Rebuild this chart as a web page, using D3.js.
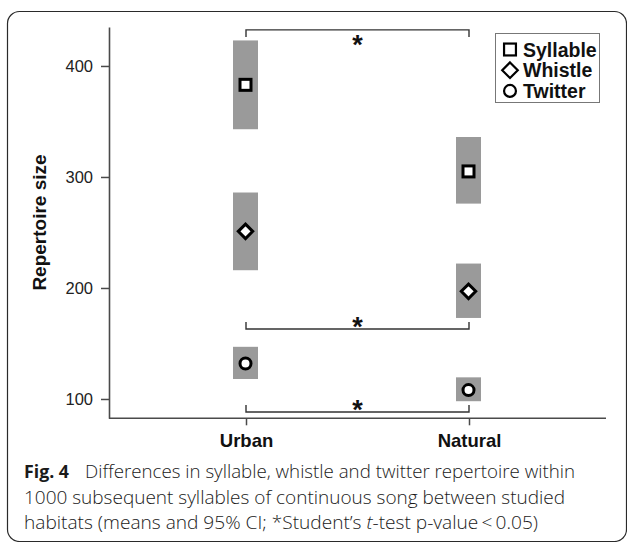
<!DOCTYPE html>
<html>
<head>
<meta charset="utf-8">
<script src="https://cdn.jsdelivr.net/npm/d3@7"></script>
<style>
  html, body { margin: 0; padding: 0; background: #fff; }
  svg { display: block; }
</style>
</head>
<body>
<svg id="chart" width="627" height="542"></svg>
<script>
// ---- data ----
const categories = ["Urban", "Natural"];
const seriesNames = ["Syllable", "Whistle", "Twitter"];
const syllableMean = [383, 305];
const syllableLow = [343, 276];
const syllableHigh = [423, 336];
const whistleMean = [251, 197];
const whistleLow = [216, 173];
const whistleHigh = [286, 222];
const twitterMean = [132, 108];
const twitterLow = [118, 98];
const twitterHigh = [147, 119.5];
const yTicks = [100, 200, 300, 400];
const bracketLevels = [432.5, 163, 88.3];
const bracketLabels = ["*", "*", "*"];
const yTitle = "Repertoire size";
const captionBold = "Fig. 4";
const captionLine1 = "Differences in syllable, whistle and twitter repertoire within";
const captionLine2 = "1000 subsequent syllables of continuous song between studied";
const captionLine3a = "habitats (means and 95% CI; *Student\u2019s ";
const captionLine3b = "t";
const captionLine3c = "-test p-value\u2009<\u20090.05)";

const series = [
  { name: seriesNames[0], mean: syllableMean, low: syllableLow, high: syllableHigh, shape: "square" },
  { name: seriesNames[1], mean: whistleMean, low: whistleLow, high: whistleHigh, shape: "diamond" },
  { name: seriesNames[2], mean: twitterMean, low: twitterLow, high: twitterHigh, shape: "circle" }
];

const svg = d3.select("#chart");
const font = "'Liberation Sans', Arial, sans-serif";
const capFont = "'Open Sans', 'Noto Sans', sans-serif";

// frame
svg.append("rect")
  .attr("x", 7.5).attr("y", 11.5)
  .attr("width", 619).attr("height", 530)
  .attr("rx", 12).attr("ry", 12)
  .attr("fill", "none").attr("stroke", "#2a2a2a").attr("stroke-width", 1.2);

// scales
const y = d3.scaleLinear().domain([82.6, 435.1]).range([418.3, 27]);
const x = d3.scalePoint().domain(categories).range([246, 469]);

const axisColor = "#4a4a4a";

// y axis
const yAxis = svg.append("g")
  .attr("transform", "translate(109,0)")
  .call(d3.axisLeft(y).tickValues(yTicks).tickSize(8).tickSizeOuter(0).tickPadding(8));
yAxis.select(".domain").attr("stroke", axisColor).attr("stroke-width", 1.6);
yAxis.selectAll(".tick line").attr("stroke", axisColor).attr("stroke-width", 1.5);
yAxis.selectAll(".tick text").attr("font-family", font).attr("font-size", 16.5).attr("fill", "#222");

// x axis
svg.append("line")
  .attr("x1", 109).attr("x2", 606)
  .attr("y1", y.range()[0]).attr("y2", y.range()[0])
  .attr("stroke", axisColor).attr("stroke-width", 1.6);
const xAxis = svg.append("g")
  .attr("transform", `translate(0,${y.range()[0]})`)
  .call(d3.axisBottom(x).tickSize(7).tickSizeOuter(0).tickPadding(9));
xAxis.select(".domain").remove();
xAxis.selectAll(".tick line").attr("stroke", axisColor).attr("stroke-width", 1.5);
xAxis.selectAll(".tick text").attr("font-family", font).attr("font-size", 18.5)
  .attr("font-weight", "bold").attr("fill", "#111");

// y title
svg.append("text")
  .attr("transform", "translate(45.5,222.5) rotate(-90)")
  .attr("text-anchor", "middle")
  .attr("font-family", font).attr("font-size", 19).attr("font-weight", "bold").attr("fill", "#111")
  .text(yTitle);

// CI bars
const barW = 25;
series.forEach(s => {
  svg.append("g").selectAll("rect")
    .data(categories)
    .join("rect")
    .attr("x", (c) => x(c) - barW / 2 - 0.5)
    .attr("width", barW)
    .attr("y", (c, i) => y(s.high[i]))
    .attr("height", (c, i) => y(s.low[i]) - y(s.high[i]))
    .attr("fill", "#9a9a9a");
});

// markers
function drawShape(g, shape, cx, cy, scale, sw) {
  if (shape === "square") {
    const a = 11 * scale;
    g.append("rect").attr("x", cx - a / 2).attr("y", cy - a / 2).attr("width", a).attr("height", a)
      .attr("fill", "#fff").attr("stroke", "#000").attr("stroke-width", sw);
  } else if (shape === "diamond") {
    const h = 7.2 * scale;
    g.append("path").attr("d", `M${cx},${cy - h}L${cx + h},${cy}L${cx},${cy + h}L${cx - h},${cy}Z`)
      .attr("fill", "#fff").attr("stroke", "#000").attr("stroke-width", sw).attr("stroke-linejoin", "miter");
  } else {
    g.append("circle").attr("cx", cx).attr("cy", cy).attr("r", 5.5 * scale)
      .attr("fill", "#fff").attr("stroke", "#000").attr("stroke-width", sw);
  }
}
const markG = svg.append("g");
series.forEach(s => {
  categories.forEach((c, i) => drawShape(markG, s.shape, x(c) - 0.5, y(s.mean[i]), 1, 3));
});

// significance brackets
const bracketG = svg.append("g");
bracketLevels.forEach((lv, k) => {
  const yy = y(lv);
  const dir = k === 0 ? 1 : -1; // tick direction (down for top bracket, up for others)
  const x1 = x(categories[0]), x2 = x(categories[1]);
  bracketG.append("path")
    .attr("d", `M${x1},${yy + dir * 7}V${yy}H${x2}V${yy + dir * 7}`)
    .attr("fill", "none").attr("stroke", "#333").attr("stroke-width", 1.4);
  bracketG.append("text")
    .attr("x", (x1 + x2) / 2)
    .attr("y", k === 0 ? yy + 24 : yy + 7)
    .attr("text-anchor", "middle")
    .attr("font-family", font).attr("font-size", 27).attr("font-weight", "bold").attr("fill", "#111")
    .text(bracketLabels[k]);
});

// legend
const lg = svg.append("g");
lg.append("rect").attr("x", 495.5).attr("y", 33.5).attr("width", 104).attr("height", 69)
  .attr("fill", "#fff").attr("stroke", "#777").attr("stroke-width", 1);
series.forEach((s, i) => {
  const cy = 49.5 + i * 20.7;
  drawShape(lg, s.shape, 510, cy, 1.08, 2.2);
  lg.append("text").attr("x", 523).attr("y", cy + 7)
    .attr("font-family", font).attr("font-size", 19.5).attr("font-weight", "bold").attr("fill", "#111")
    .text(s.name);
});

// caption
const cap = svg.append("g").attr("fill", "#1a1a1a");
cap.append("text").attr("x", 24).attr("y", 478)
  .attr("font-family", capFont).attr("font-size", 18.5).attr("font-weight", "bold")
  .attr("textLength", 45).attr("lengthAdjust", "spacingAndGlyphs")
  .text(captionBold);
cap.append("text").attr("x", 85).attr("y", 478)
  .attr("font-family", capFont).attr("font-size", 18.5).attr("font-weight", 300)
  .attr("textLength", 490).attr("lengthAdjust", "spacingAndGlyphs")
  .text(captionLine1);
cap.append("text").attr("x", 24).attr("y", 503.5)
  .attr("font-family", capFont).attr("font-size", 18.5).attr("font-weight", 300)
  .attr("textLength", 541).attr("lengthAdjust", "spacingAndGlyphs")
  .text(captionLine2);
const l3 = cap.append("text").attr("x", 24).attr("y", 529)
  .attr("font-family", capFont).attr("font-size", 18.5).attr("font-weight", 300)
  .attr("textLength", 514).attr("lengthAdjust", "spacingAndGlyphs");
l3.append("tspan").text(captionLine3a);
l3.append("tspan").attr("font-style", "italic").text(captionLine3b);
l3.append("tspan").text(captionLine3c);
</script>
</body>
</html>
